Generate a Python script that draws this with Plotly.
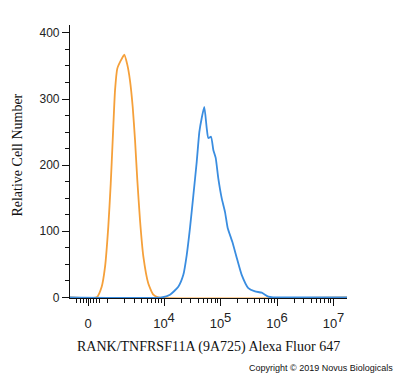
import plotly.graph_objects as go
import math

# Histogram channels on the display (biexponential) scale: 4 = 10^4, 5 = 10^5 ...
orange_x = [2.336, 2.809, 2.897, 2.956, 3.014, 3.057, 3.092, 3.133, 3.173, 3.234, 3.297,
            3.350, 3.398, 3.446, 3.487, 3.527, 3.575, 3.634, 3.722, 3.811, 3.899, 7.239]
orange_y = [0, 0, 16, 46, 107, 172, 238, 313, 346, 358, 367,
            352, 328, 288, 238, 178, 117, 62, 21, 4, 0, 0]

blue_x = [2.336, 3.959, 4.106, 4.253, 4.342, 4.402, 4.460, 4.519, 4.579, 4.625, 4.667, 4.713,
          4.756, 4.784, 4.832, 4.873, 4.915, 4.961, 5.021, 5.080, 5.127, 5.209, 5.287,
          5.375, 5.492, 5.611, 5.729, 5.846, 5.929, 7.239]
blue_y = [0, 0, 4, 16, 34, 64, 105, 154, 205, 250, 271, 288,
          256, 241, 243, 223, 211, 180, 150, 129, 105, 84, 60,
          34, 14, 9, 7, 1, 0, 0]

x_tick_vals = [2.655, 4, 5, 6, 7]
x_tick_text = ["0"] + ["10<sup><span style='font-size:13px'>%d</span></sup>" % e for e in [4, 5, 6, 7]]
y_tick_vals = [0, 100, 200, 300, 400]

x_minor = [2.45, 2.52, 2.58, 2.62, 2.70, 2.76, 2.80, 2.86, 3.0]
for dec in [3, 4, 5, 6]:
    for k in range(2, 10):
        x_minor.append(dec + math.log10(k))

fig = go.Figure()
fig.add_trace(go.Scatter(x=orange_x, y=orange_y, mode="lines",
                         line=dict(color="#F5A03A", width=1.8, shape="spline", smoothing=0.5),
                         hoverinfo="skip"))
fig.add_trace(go.Scatter(x=blue_x, y=blue_y, mode="lines",
                         line=dict(color="#3A8DE0", width=1.8, shape="spline", smoothing=0.5),
                         hoverinfo="skip"))

fig.update_layout(
    width=400, height=378,
    margin=dict(l=70, r=53, t=25, b=80),
    paper_bgcolor="white", plot_bgcolor="white",
    showlegend=False,
    font=dict(family="Liberation Sans, Arial", size=12, color="#222"),
    xaxis=dict(range=[2.336, 7.239], showgrid=False, zeroline=False,
               showline=True, linecolor="#111", linewidth=1.2,
               tickmode="array", tickvals=x_tick_vals, ticktext=x_tick_text,
               ticks="outside", ticklen=7, tickwidth=1, tickcolor="#111",
               ticklabelstandoff=6,
               tickfont=dict(family="Liberation Sans, Arial", size=13, color="#222"),
               minor=dict(tickmode="array", tickvals=x_minor, ticks="outside",
                          ticklen=4, tickwidth=1, tickcolor="#111")),
    yaxis=dict(range=[-1, 412], showgrid=False, zeroline=False,
               showline=True, linecolor="#111", linewidth=1.2,
               tickmode="array", tickvals=y_tick_vals,
               ticks="outside", ticklen=7, tickwidth=1, tickcolor="#111",
               tickfont=dict(family="Liberation Sans, Arial", size=12, color="#222"),
               minor=dict(dtick=25, ticks="outside", ticklen=4, tickwidth=1, tickcolor="#111")),
    annotations=[
        dict(text="RANK/TNFRSF11A (9A725) Alexa Fluor 647", xref="paper", yref="paper",
             x=0.5, y=-0.18, xanchor="center", yanchor="middle", showarrow=False,
             font=dict(family="Liberation Serif, Times New Roman", size=14, color="#111")),
        dict(text="Relative Cell Number", xref="paper", yref="paper",
             x=-0.188, y=0.525, xanchor="center", yanchor="middle", showarrow=False,
             textangle=-90,
             font=dict(family="Liberation Serif, Times New Roman", size=14, color="#111")),
        dict(text="Copyright © 2019 Novus Biologicals", xref="paper", yref="paper",
             x=1.173, y=-0.256, xanchor="right", yanchor="middle", showarrow=False,
             font=dict(family="Liberation Sans, Arial", size=9, color="#111")),
    ],
)

fig.write_html("out.html")
